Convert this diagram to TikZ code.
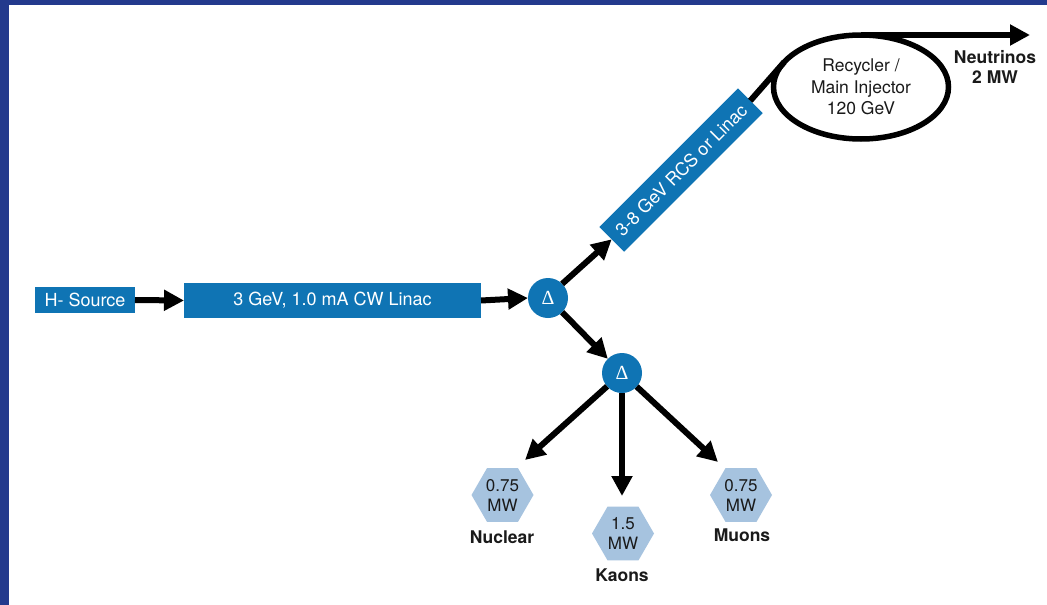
\documentclass[tikz,border=0pt]{standalone}
\usepackage{fontspec}
\setmainfont{TeX Gyre Heros}
\newfontfamily\deltafont{Liberation Serif}
\usetikzlibrary{arrows.meta,shapes.geometric}
\definecolor{borderblue}{HTML}{233A8D}
\definecolor{boxblue}{HTML}{0F74B4}
\definecolor{hexblue}{HTML}{A6C3DF}
\definecolor{textdark}{HTML}{1A1A1A}
\tikzset{
  bluebox/.style={fill=boxblue, text=white, inner sep=0pt, outer sep=0pt, font=\fontsize{18}{21}\selectfont},
  deltanode/.style={circle, fill=boxblue, text=white, minimum size=40pt, inner sep=0pt, outer sep=0pt, font=\deltafont\fontsize{20}{22}\selectfont},
  hexnode/.style={regular polygon, regular polygon sides=6, fill=hexblue, minimum size=62pt, inner sep=0pt, outer sep=0pt, align=center, text=textdark, font=\fontsize{17}{20}\selectfont},
  lbl/.style={text=textdark, font=\bfseries\fontsize{17.5}{20}\selectfont, align=center, inner sep=0pt},
  beam/.style={line width=6pt, -{Triangle[length=20pt,width=20pt]}},
  plainbeam/.style={line width=6pt},
}
\begin{document}
\begin{tikzpicture}[x=1pt,y=-1pt]
\fill[borderblue] (0,0) rectangle (1047,605);
\fill[white] (9,5) rectangle (1047,605);
\useasboundingbox (0,0) rectangle (1047,605);

\node[bluebox, minimum width=100pt, minimum height=26pt] (src) at (85,300) {H- Source};
\node[bluebox, minimum width=297pt, minimum height=35pt] (linac) at (332.5,300.5) {3 GeV, 1.0 mA CW Linac};
\node[deltanode] (d1) at (548,298) {Δ};
\node[deltanode] (d2) at (622,373) {Δ};
\node[bluebox, minimum width=196pt, minimum height=35pt, rotate=45] (rcs) at (681,170) {3-8 GeV RCS or Linac};
\node[draw, ellipse, line width=5.5pt, minimum width=175pt, minimum height=104pt, inner sep=0pt, outer sep=0pt, align=center, text=textdark, font=\fontsize{17.5}{21.5}\selectfont] (ring) at (861,87) {Recycler /\\Main Injector\\120 GeV};
\node[lbl] (nu) at (995,67) {Neutrinos\\2 MW};

\node[hexnode] (hnuc) at (502.5,495) {0.75\\MW};
\node[hexnode] (hkao) at (623,533.5) {1.5\\MW};
\node[hexnode] (hmuo) at (741,495) {0.75\\MW};
\node[lbl] (lnuc) at (502,537) {Nuclear};
\node[lbl] (lkao) at (622,575) {Kaons};
\node[lbl] (lmuo) at (742,535) {Muons};

\coordinate (nutip) at (1030,35);
\coordinate (nuctip) at (525,460);
\coordinate (kaotip) at (622,496);
\coordinate (muotip) at (718,462);

\draw[beam] (src.east) -- (linac.west);
\draw[beam] (linac.east) -- (d1.west);
\draw[beam] (d1.45) -- (rcs.west);
\draw[beam] (d1.-45) -- (d2.135);
\draw[plainbeam] (rcs.east) -- (ring.162);
\draw[beam] (ring.north) -- (nutip);
\draw[beam] (d2) -- (nuctip);
\draw[beam] (d2) -- (kaotip);
\draw[beam] (d2) -- (muotip);
\end{tikzpicture}
\end{document}
